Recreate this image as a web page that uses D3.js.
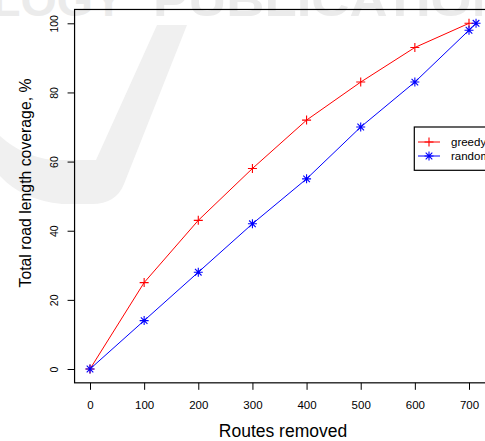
<!DOCTYPE html>
<html>
<head>
<meta charset="utf-8">
<title>Road length coverage</title>
<style>
  body { margin: 0; background: #fff; }
  svg { display: block; font-family: "Liberation Sans", Arial, Helvetica, sans-serif; }
</style>
</head>
<body>
<svg id="chart" width="485" height="441"></svg>
<script src="https://cdn.jsdelivr.net/npm/d3@7"></script>
<script>
// data
var routes = [0, 100, 200, 300, 400, 500, 600, 700];
var greedy = [0, 25, 43, 58, 72, 83, 93, 100];
var randomX = [0, 100, 200, 300, 400, 500, 600, 700, 713];
var randomY = [0, 14, 28, 42, 55, 70, 83, 98, 100];
var xTicks = [0, 100, 200, 300, 400, 500, 600, 700];
var yTicks = [0, 20, 40, 60, 80, 100];
var seriesNames = ["greedy", "random"];

var svg = d3.select("#chart");

// faint watermark from the source page
var wm = svg.append("g");
wm.append("path").attr("fill", "#f0f0f0")
  .attr("d", "M157,25 L187,25 L124,184 Q116,204 92,204 L62,204 Q22,200 0,176 L0,136 Q22,156 52,160 L96,160 Z");
wm.append("text").attr("x", -8).attr("y", 16).attr("fill", "#ebebeb")
  .attr("font-size", 46).attr("font-weight", "bold")
  .attr("textLength", 132).attr("lengthAdjust", "spacingAndGlyphs").text("LOGY");
wm.append("text").attr("x", 153).attr("y", 16).attr("fill", "#ebebeb")
  .attr("font-size", 46).attr("font-weight", "bold")
  .attr("textLength", 392).attr("lengthAdjust", "spacingAndGlyphs").text("PUBLICATIONS");

var x = d3.scaleLinear().domain([0, 700]).range([90, 469]);
var y = d3.scaleLinear().domain([0, 100]).range([369, 23.3]);

// R style box: data range padded by 4%
var x0 = x(-28.5), x1 = x(741.5), y0 = y(-4), y1 = y(104);

svg.append("rect")
  .attr("x", x0).attr("y", y1)
  .attr("width", x1 - x0).attr("height", y0 - y1)
  .attr("fill", "none").attr("stroke", "#000").attr("stroke-width", 1.2);

// x axis
var gx = svg.append("g").attr("transform", "translate(0," + y0 + ")")
  .call(d3.axisBottom(x).tickValues(xTicks).tickSize(7).tickPadding(11));
gx.select(".domain").remove();
gx.selectAll("line").attr("stroke", "#000");
gx.selectAll("text").attr("font-size", 11.5).attr("fill", "#000")
  .attr("font-family", "Liberation Sans, Arial, sans-serif");

// y axis
var gy = svg.append("g").attr("transform", "translate(" + x0 + ",0)")
  .call(d3.axisLeft(y).tickValues(yTicks).tickSize(7).tickFormat(d3.format("d")));
gy.select(".domain").remove();
gy.selectAll("line").attr("stroke", "#000");
gy.selectAll("text")
  .attr("font-size", 10.5).attr("fill", "#000")
  .attr("font-family", "Liberation Sans, Arial, sans-serif")
  .attr("text-anchor", "middle").attr("dy", null).attr("x", null)
  .attr("transform", "translate(-17,0) rotate(-90)");

// axis titles
svg.append("text")
  .attr("x", (x0 + x1) / 2).attr("y", 437)
  .attr("text-anchor", "middle").attr("font-size", 17.5)
  .text("Routes removed");
svg.append("text")
  .attr("transform", "translate(31,183) rotate(-90)")
  .attr("text-anchor", "middle").attr("font-size", 15.8)
  .text("Total road length coverage, %");

var line = d3.line().x(function(d) { return x(d[0]); }).y(function(d) { return y(d[1]); });

var greedyPts = routes.map(function(r, i) { return [r, greedy[i]]; });
var randomPts = randomX.map(function(r, i) { return [r, randomY[i]]; });

function plus(g, cx, cy, col) {
  g.append("path")
    .attr("d", "M" + (cx - 4.5) + "," + cy + "h9M" + cx + "," + (cy - 4.5) + "v9")
    .attr("stroke", col).attr("stroke-width", 1.1).attr("fill", "none");
}
function star(g, cx, cy, col) {
  var a = 3.3;
  g.append("path")
    .attr("d", "M" + (cx - 4.5) + "," + cy + "h9M" + cx + "," + (cy - 4.5) + "v9" +
      "M" + (cx - a) + "," + (cy - a) + "l" + 2 * a + "," + 2 * a +
      "M" + (cx - a) + "," + (cy + a) + "l" + 2 * a + "," + (-2 * a))
    .attr("stroke", col).attr("stroke-width", 1.1).attr("fill", "none");
}

var plot = svg.append("g");
plot.append("path").datum(greedyPts).attr("d", line)
  .attr("fill", "none").attr("stroke", "#ff0000").attr("stroke-width", 1);
plot.append("path").datum(randomPts).attr("d", line)
  .attr("fill", "none").attr("stroke", "#0000ff").attr("stroke-width", 1);
greedyPts.forEach(function(p) { plus(plot, x(p[0]), y(p[1]), "#ff0000"); });
randomPts.forEach(function(p) { star(plot, x(p[0]), y(p[1]), "#0000ff"); });

// legend (runs off the right edge like the original)
var lg = svg.append("g");
lg.append("rect").attr("x", 414.3).attr("y", 127).attr("width", 120).attr("height", 43.3)
  .attr("fill", "#fff").attr("stroke", "#000").attr("stroke-width", 1.2);
var cols = ["#ff0000", "#0000ff"];
seriesNames.forEach(function(name, i) {
  var ly = 142 + i * 14;
  lg.append("line").attr("x1", 418).attr("x2", 440).attr("y1", ly).attr("y2", ly)
    .attr("stroke", cols[i]).attr("stroke-width", 1);
  if (i === 0) plus(lg, 429, ly, cols[i]); else star(lg, 429, ly, cols[i]);
  lg.append("text").attr("x", 451).attr("y", ly + 4)
    .attr("font-size", 11.5).text(name);
});
</script>
</body>
</html>
